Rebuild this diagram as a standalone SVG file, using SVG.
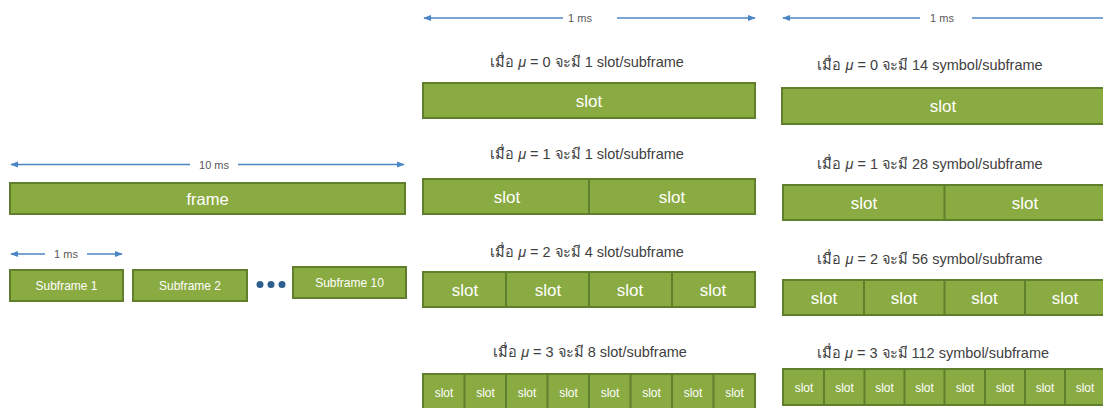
<svg xmlns="http://www.w3.org/2000/svg" width="1103" height="408" viewBox="0 0 1103 408">
<defs>
<marker id="ah" viewBox="0 0 10 10" refX="9" refY="5" markerWidth="8" markerHeight="8" markerUnits="userSpaceOnUse" orient="auto-start-reverse">
<path d="M0,1 L10,5 L0,9 z" fill="#4A86C5"/>
</marker>
<style>
.box{fill:#8AAA42;stroke:#5F7F2C;stroke-width:2}
.div{stroke:#5F7F2C;stroke-width:2}
.arr{stroke:#4A86C5;stroke-width:1.5;fill:none}
.t{font-family:"Liberation Sans",Arial,sans-serif;fill:#fff;text-anchor:middle}
.ms{font-family:"Liberation Sans",Arial,sans-serif;fill:#595959;font-size:11px;text-anchor:middle}
.lb{font-family:"Liberation Sans","DejaVu Sans","Noto Sans",sans-serif;fill:#404040;font-size:14.5px;text-anchor:middle}
.mu{font-style:italic}
</style>
</defs>
<rect width="1103" height="408" fill="#fff"/>
<g id="connectors">
<line class="arr" x1="11" y1="164.5" x2="190" y2="164.5" marker-start="url(#ah)"/>
<line class="arr" x1="238" y1="164.5" x2="404" y2="164.5" marker-end="url(#ah)"/>
<line class="arr" x1="11" y1="254" x2="45" y2="254" marker-start="url(#ah)"/>
<line class="arr" x1="87" y1="254" x2="122" y2="254" marker-end="url(#ah)"/>
<line class="arr" x1="424" y1="18" x2="563" y2="18" marker-start="url(#ah)"/>
<line class="arr" x1="617" y1="18" x2="755" y2="18" marker-end="url(#ah)"/>
<line class="arr" x1="783" y1="18" x2="920" y2="18" marker-start="url(#ah)"/>
<line class="arr" x1="972" y1="18" x2="1103" y2="18"/>
</g>
<g id="dim-labels">
<text class="ms" x="214" y="168.5">10 ms</text>
<text class="ms" x="66" y="258">1 ms</text>
<text class="ms" x="580" y="22">1 ms</text>
<text class="ms" x="942" y="22">1 ms</text>
</g>
<g id="frame">
<rect class="box" x="10" y="183" width="395" height="31"/>
<text class="t" x="207.5" y="204.5" font-size="16.5">frame</text>
</g>
<g id="subframe1">
<rect class="box" x="10" y="270" width="113" height="31"/>
<text class="t" x="66.5" y="290" font-size="12">Subframe 1</text>
</g>
<g id="subframe2">
<rect class="box" x="133" y="270" width="114" height="31"/>
<text class="t" x="190" y="290" font-size="12">Subframe 2</text>
</g>
<g id="dots" fill="#2F5F8F">
<circle cx="260" cy="284.5" r="3.5"/>
<circle cx="271" cy="284.5" r="3.5"/>
<circle cx="282" cy="284.5" r="3.5"/>
</g>
<g id="subframe10">
<rect class="box" x="293" y="267" width="113" height="31"/>
<text class="t" x="349.5" y="287" font-size="12">Subframe 10</text>
</g>
<g id="mid-mu0">
<text class="lb" x="587" y="67">เมื่อ <tspan class="mu">μ</tspan> = 0 จะมี 1 slot/subframe</text>
<rect class="box" x="423" y="83" width="332" height="35"/>
<text class="t" x="589" y="107" font-size="17">slot</text>
</g>
<g id="mid-mu1">
<text class="lb" x="587" y="159">เมื่อ <tspan class="mu">μ</tspan> = 1 จะมี 1 slot/subframe</text>
<rect class="box" x="423" y="179" width="332" height="35"/>
<line class="div" x1="589" y1="179" x2="589" y2="214"/>
<text class="t" x="507" y="203" font-size="17">slot</text>
<text class="t" x="672" y="203" font-size="17">slot</text>
</g>
<g id="mid-mu2">
<text class="lb" x="587" y="257">เมื่อ <tspan class="mu">μ</tspan> = 2 จะมี 4 slot/subframe</text>
<rect class="box" x="423" y="272" width="332" height="35"/>
<line class="div" x1="506" y1="272" x2="506" y2="307"/>
<line class="div" x1="589" y1="272" x2="589" y2="307"/>
<line class="div" x1="672" y1="272" x2="672" y2="307"/>
<text class="t" x="465" y="296" font-size="17">slot</text>
<text class="t" x="548" y="296" font-size="17">slot</text>
<text class="t" x="630" y="296" font-size="17">slot</text>
<text class="t" x="713" y="296" font-size="17">slot</text>
</g>
<g id="mid-mu3">
<text class="lb" x="590" y="357">เมื่อ <tspan class="mu">μ</tspan> = 3 จะมี 8 slot/subframe</text>
<rect class="box" x="423" y="374" width="332" height="40"/>
<line class="div" x1="464.5" y1="374" x2="464.5" y2="408"/>
<line class="div" x1="506" y1="374" x2="506" y2="408"/>
<line class="div" x1="547.5" y1="374" x2="547.5" y2="408"/>
<line class="div" x1="589" y1="374" x2="589" y2="408"/>
<line class="div" x1="630.5" y1="374" x2="630.5" y2="408"/>
<line class="div" x1="672" y1="374" x2="672" y2="408"/>
<line class="div" x1="713.5" y1="374" x2="713.5" y2="408"/>
<g font-size="12">
<text class="t" x="444" y="397">slot</text>
<text class="t" x="485.5" y="397">slot</text>
<text class="t" x="527" y="397">slot</text>
<text class="t" x="568.5" y="397">slot</text>
<text class="t" x="610" y="397">slot</text>
<text class="t" x="651.5" y="397">slot</text>
<text class="t" x="693" y="397">slot</text>
<text class="t" x="734.5" y="397">slot</text>
</g>
</g>
<g id="right-mu0">
<text class="lb" x="930" y="70">เมื่อ <tspan class="mu">μ</tspan> = 0 จะมี 14 symbol/subframe</text>
<rect class="box" x="782" y="88" width="330" height="36"/>
<text class="t" x="943" y="112" font-size="17">slot</text>
</g>
<g id="right-mu1">
<text class="lb" x="930" y="169">เมื่อ <tspan class="mu">μ</tspan> = 1 จะมี 28 symbol/subframe</text>
<rect class="box" x="783" y="185" width="330" height="35"/>
<line class="div" x1="944.5" y1="185" x2="944.5" y2="220"/>
<text class="t" x="864" y="209" font-size="17">slot</text>
<text class="t" x="1025" y="209" font-size="17">slot</text>
</g>
<g id="right-mu2">
<text class="lb" x="930" y="264">เมื่อ <tspan class="mu">μ</tspan> = 2 จะมี 56 symbol/subframe</text>
<rect class="box" x="783" y="280" width="330" height="35"/>
<line class="div" x1="864" y1="280" x2="864" y2="315"/>
<line class="div" x1="944.5" y1="280" x2="944.5" y2="315"/>
<line class="div" x1="1025" y1="280" x2="1025" y2="315"/>
<text class="t" x="824" y="304" font-size="17">slot</text>
<text class="t" x="904" y="304" font-size="17">slot</text>
<text class="t" x="984.5" y="304" font-size="17">slot</text>
<text class="t" x="1065" y="304" font-size="17">slot</text>
</g>
<g id="right-mu3">
<text class="lb" x="933" y="358">เมื่อ <tspan class="mu">μ</tspan> = 3 จะมี 112 symbol/subframe</text>
<rect class="box" x="783" y="369" width="330" height="36"/>
<line class="div" x1="824" y1="369" x2="824" y2="405"/>
<line class="div" x1="864.5" y1="369" x2="864.5" y2="405"/>
<line class="div" x1="904.5" y1="369" x2="904.5" y2="405"/>
<line class="div" x1="944.5" y1="369" x2="944.5" y2="405"/>
<line class="div" x1="985" y1="369" x2="985" y2="405"/>
<line class="div" x1="1025" y1="369" x2="1025" y2="405"/>
<line class="div" x1="1065" y1="369" x2="1065" y2="405"/>
<g font-size="12">
<text class="t" x="804" y="392">slot</text>
<text class="t" x="844.5" y="392">slot</text>
<text class="t" x="884.5" y="392">slot</text>
<text class="t" x="924.5" y="392">slot</text>
<text class="t" x="965" y="392">slot</text>
<text class="t" x="1005" y="392">slot</text>
<text class="t" x="1045" y="392">slot</text>
<text class="t" x="1085" y="392">slot</text>
</g>
</g>
</svg>
